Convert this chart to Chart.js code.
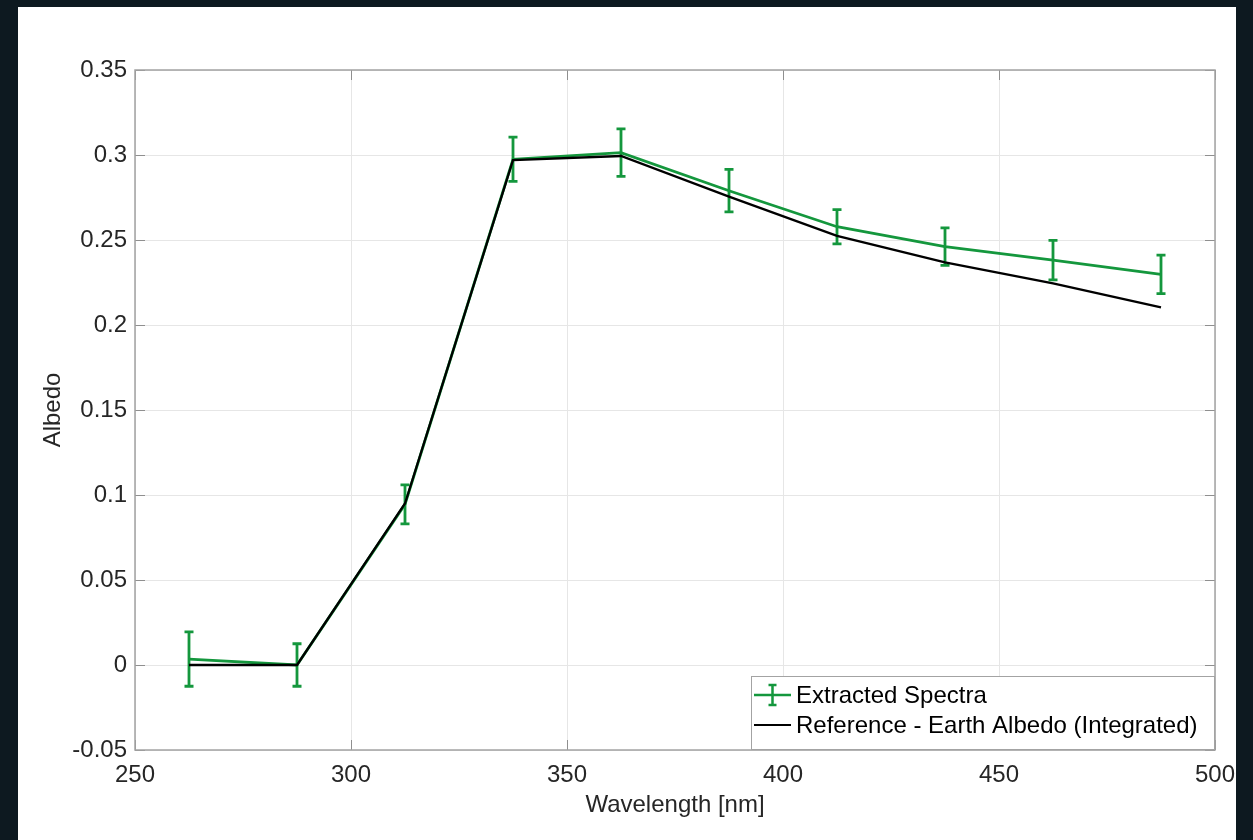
<!DOCTYPE html>
<html>
<head>
<meta charset="utf-8">
<title>Albedo vs Wavelength</title>
<script src="https://cdn.jsdelivr.net/npm/chart.js@4.4.1/dist/chart.umd.min.js"></script>
<style>
  html, body { margin: 0; padding: 0; width: 1253px; height: 840px; overflow: hidden; background: #0d1920; }
  #panel { position: absolute; left: 18px; top: 7px; width: 1218px; height: 833px; background: #ffffff; }
  canvas { display: block; }
</style>
</head>
<body>
<div id="panel"><canvas id="chart" width="1218" height="833"></canvas></div>
<script>
// Wavelength bin centres [nm]
const wavelengths = [262.5, 287.5, 312.5, 337.5, 362.5, 387.5, 412.5, 437.5, 462.5, 487.5];
// Albedo recovered from the spectra, with its uncertainty (half-height of each error bar)
const extracted    = [0.0035, 0.0000, 0.0945, 0.2975, 0.3014, 0.2790, 0.2578, 0.2461, 0.2382, 0.2298];
const extractedErr = [0.0160, 0.0125, 0.0115, 0.0130, 0.0140, 0.0125, 0.0101, 0.0110, 0.0116, 0.0113];
// Integrated Earth albedo used for comparison
const reference    = [0.0000, 0.0000, 0.0950, 0.2970, 0.2994, 0.2755, 0.2524, 0.2369, 0.2245, 0.2104];

const seriesLabels = ['Extracted Spectra', 'Reference - Earth Albedo (Integrated)'];
const xRange = [250, 500, 50];
const yRange = [-0.05, 0.35, 0.05];

const GREEN = '#14973d';
const TEXT = '#262626';
const FONT = '"Liberation Sans", Arial, Helvetica, sans-serif';

const toPoints = ys => wavelengths.map((x, i) => ({ x, y: ys[i] }));

// Vertical error bars with caps, drawn right after the green series
const errorBars = {
  id: 'errorBars',
  afterDatasetDraw(chart, args) {
    if (args.index !== 0) return;
    const { ctx, scales: { x, y } } = chart;
    const cap = 4.5;
    ctx.save();
    ctx.strokeStyle = GREEN;
    ctx.lineWidth = 2.8;
    ctx.lineCap = 'butt';
    wavelengths.forEach((w, i) => {
      const px = x.getPixelForValue(w);
      const top = y.getPixelForValue(extracted[i] + extractedErr[i]);
      const bot = y.getPixelForValue(extracted[i] - extractedErr[i]);
      ctx.beginPath();
      ctx.moveTo(px, top); ctx.lineTo(px, bot);
      ctx.moveTo(px - cap, top); ctx.lineTo(px + cap, top);
      ctx.moveTo(px - cap, bot); ctx.lineTo(px + cap, bot);
      ctx.stroke();
    });
    ctx.restore();
  }
};

// Box around the axes with inward tick marks on all four sides
const axesBox = {
  id: 'axesBox',
  beforeDatasetsDraw(chart) {
    const { ctx, chartArea: a, scales: { x, y } } = chart;
    const len = 10;
    ctx.save();
    ctx.strokeStyle = '#8f8f8f';
    ctx.lineWidth = 1;
    ctx.beginPath();
    x.ticks.forEach(t => {
      const px = Math.round(x.getPixelForValue(t.value)) + 0.5;
      ctx.moveTo(px, a.bottom); ctx.lineTo(px, a.bottom - len);
      ctx.moveTo(px, a.top); ctx.lineTo(px, a.top + len);
    });
    y.ticks.forEach(t => {
      const py = Math.round(y.getPixelForValue(t.value)) + 0.5;
      ctx.moveTo(a.left, py); ctx.lineTo(a.left + len, py);
      ctx.moveTo(a.right, py); ctx.lineTo(a.right - len, py);
    });
    ctx.stroke();
    ctx.strokeStyle = '#a3a3a3';
    ctx.lineWidth = 1.5;
    ctx.strokeRect(a.left, a.top, a.right - a.left, a.bottom - a.top);
    ctx.restore();
  }
};

// Legend box in the lower-right corner of the axes
const cornerLegend = {
  id: 'cornerLegend',
  afterDraw(chart) {
    const { ctx, chartArea: a } = chart;
    const w = 464, h = 74;
    const left = a.right - w, top = a.bottom - h;
    ctx.save();
    ctx.fillStyle = '#ffffff';
    ctx.fillRect(left, top, w, h);
    ctx.strokeStyle = '#a3a3a3';
    ctx.lineWidth = 1;
    ctx.strokeRect(left + 0.5, top + 0.5, w - 1, h - 1);

    const rows = [top + 19, top + 49];
    const x0 = left + 3, x1 = left + 40, xm = (x0 + x1) / 2;
    // row 1: green line with error-bar glyph
    ctx.strokeStyle = GREEN;
    ctx.lineWidth = 2.5;
    ctx.beginPath();
    ctx.moveTo(x0, rows[0]); ctx.lineTo(x1, rows[0]);
    ctx.moveTo(xm, rows[0] - 10); ctx.lineTo(xm, rows[0] + 10);
    ctx.moveTo(xm - 4, rows[0] - 10); ctx.lineTo(xm + 4, rows[0] - 10);
    ctx.moveTo(xm - 4, rows[0] + 10); ctx.lineTo(xm + 4, rows[0] + 10);
    ctx.stroke();
    // row 2: black line
    ctx.strokeStyle = '#000000';
    ctx.lineWidth = 2.2;
    ctx.beginPath();
    ctx.moveTo(x0, rows[1]); ctx.lineTo(x1, rows[1]);
    ctx.stroke();

    ctx.fillStyle = '#000000';
    ctx.font = '24px ' + FONT;
    ctx.textBaseline = 'middle';
    ctx.textAlign = 'left';
    seriesLabels.forEach((label, i) => ctx.fillText(label, left + 45, rows[i] + 1));
    ctx.restore();
  }
};

const fmt = v => String(Number(v.toFixed(2)));

new Chart(document.getElementById('chart'), {
  type: 'line',
  data: {
    datasets: [
      {
        label: seriesLabels[0],
        data: toPoints(extracted),
        borderColor: GREEN,
        borderWidth: 2.8,
        pointRadius: 0,
        tension: 0,
        order: 2
      },
      {
        label: seriesLabels[1],
        data: toPoints(reference),
        borderColor: '#000000',
        borderWidth: 2.3,
        pointRadius: 0,
        tension: 0,
        order: 1
      }
    ]
  },
  options: {
    responsive: false,
    animation: false,
    layout: { padding: { left: 0, top: 63, right: 21, bottom: 0 } },
    plugins: { legend: { display: false }, tooltip: { enabled: false } },
    scales: {
      x: {
        type: 'linear',
        min: xRange[0], max: xRange[1],
        afterFit(scale) { scale.height = 90; scale.paddingLeft = 0; scale.paddingRight = 0; },
        ticks: { stepSize: xRange[2], color: TEXT, padding: 11, font: { family: FONT, size: 24 }, callback: v => fmt(v) },
        grid: { color: '#e6e6e6', lineWidth: 1, drawTicks: false },
        border: { display: false },
        title: { display: true, text: 'Wavelength [nm]', color: TEXT, font: { family: FONT, size: 24 }, padding: { top: 0, bottom: 20 } }
      },
      y: {
        type: 'linear',
        min: yRange[0], max: yRange[1],
        afterFit(scale) { scale.width = 117; scale.paddingTop = 0; scale.paddingBottom = 0; },
        ticks: { stepSize: yRange[2], color: TEXT, padding: 8, font: { family: FONT, size: 24 }, callback: v => fmt(v) },
        grid: { color: '#e6e6e6', lineWidth: 1, drawTicks: false },
        border: { display: false },
        title: { display: true, text: 'Albedo', color: TEXT, font: { family: FONT, size: 24 }, padding: { top: 21, bottom: 0 } }
      }
    }
  },
  plugins: [axesBox, errorBars, cornerLegend]
});
</script>
</body>
</html>
